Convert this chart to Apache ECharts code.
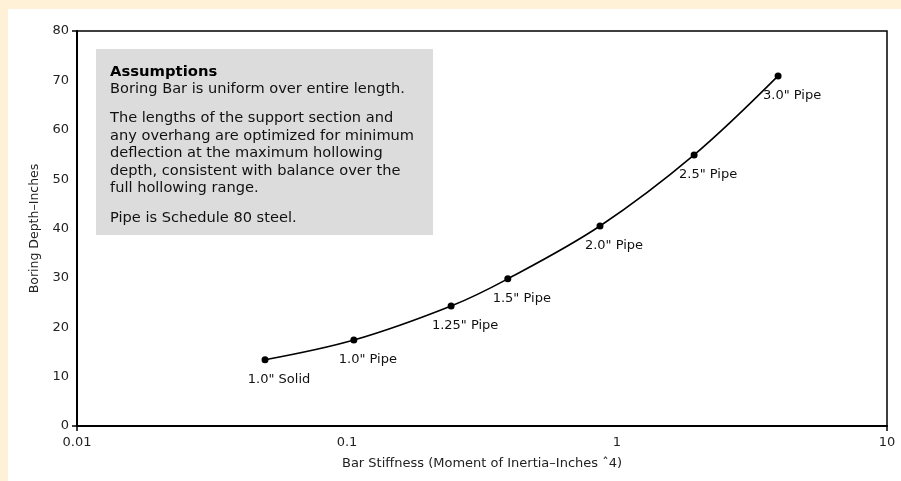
<!DOCTYPE html>
<html>
<head>
<meta charset="utf-8">
<script src="https://cdn.jsdelivr.net/npm/echarts@6/dist/echarts.min.js"></script>
<style>
  html, body { margin: 0; padding: 0; }
  #main { width: 901px; height: 481px; }
</style>
</head>
<body>
<div id="main"></div>
<script>
// bar sizes and their stiffness (moment of inertia, in^4) vs boring depth (in)
var barSizes = ['1.0" Solid', '1.0" Pipe', '1.25" Pipe', '1.5" Pipe', '2.0" Pipe', '2.5" Pipe', '3.0" Pipe'];
var stiffness = [0.0497, 0.106, 0.243, 0.394, 0.865, 1.93, 3.95];
var depth = [13.4, 17.4, 24.3, 29.8, 40.5, 54.9, 70.9];

var noteTitle = 'Assumptions';
var noteLines = [
    'Boring Bar is uniform over entire length.',
    'The lengths of the support section and',
    'any overhang are optimized for minimum',
    'deflection at the maximum hollowing',
    'depth, consistent with balance over the',
    'full hollowing range.',
    'Pipe is Schedule 80 steel.'
];
var noteLineY = [89, 118, 136, 153, 171, 188, 218];

loadChart();

function loadChart() {
    var myChart = echarts.init(document.getElementById('main'));
    var font = '"DejaVu Sans", sans-serif';

    var points = [];
    for (var i = 0; i < stiffness.length; i++) {
        points.push({ value: [stiffness[i], depth[i]], name: barSizes[i] });
    }

    var graphics = [
        { type: 'rect', z: -10, shape: { x: 8, y: 9, width: 893, height: 472 }, style: { fill: '#ffffff' } },
        { type: 'rect', z: 1, shape: { x: 96, y: 49, width: 337, height: 186 }, style: { fill: '#dcdcdd' } },
        {
            type: 'text', z: 2,
            style: { text: noteTitle, x: 110, y: 72, fill: '#000', font: 'bold 14.8px ' + font, textVerticalAlign: 'middle' }
        }
    ];
    noteLines.forEach(function (line, k) {
        graphics.push({
            type: 'text', z: 2,
            style: { text: line, x: 110, y: noteLineY[k], fill: '#111', font: '14.6px ' + font, textVerticalAlign: 'middle' }
        });
    });

    var option = {
        backgroundColor: '#fff0d8',
        animation: false,
        textStyle: { fontFamily: font },
        grid: {
            left: 77, top: 31, right: 14, bottom: 55,
            show: true, borderColor: '#000', borderWidth: 1.5
        },
        graphic: graphics,
        xAxis: [
            {
                type: 'log',
                logBase: 10,
                min: 0.01,
                max: 10,
                name: 'Bar Stiffness (Moment of Inertia–Inches ˆ4)',
                nameLocation: 'middle',
                nameGap: 31,
                nameTextStyle: { color: '#222', fontSize: 13 },
                axisLine: { lineStyle: { color: '#000', width: 2 } },
                axisTick: { show: false },
                minorTick: { show: false },
                splitLine: { show: false },
                axisLabel: { color: '#222', fontSize: 13, margin: 10 }
            },
            {
                // only the end ticks
                type: 'value', min: 0, max: 1, interval: 1, position: 'bottom',
                axisLine: { show: false },
                axisLabel: { show: false },
                splitLine: { show: false },
                axisTick: { show: true, length: 5, lineStyle: { color: '#000', width: 1.5 } }
            }
        ],
        yAxis: [
            {
                type: 'value',
                min: 0,
                max: 80,
                interval: 10,
                name: 'Boring Depth–Inches',
                nameLocation: 'middle',
                nameGap: 34,
                nameTextStyle: { color: '#222', fontSize: 12.5 },
                axisLine: { show: true, lineStyle: { color: '#000', width: 2 } },
                axisTick: { show: false },
                splitLine: { show: false },
                axisLabel: { color: '#222', fontSize: 13, margin: 8 }
            },
            {
                type: 'value', min: 0, max: 80, interval: 80, position: 'left',
                axisLine: { show: false },
                axisLabel: { show: false },
                splitLine: { show: false },
                axisTick: { show: true, length: 5, lineStyle: { color: '#000', width: 1.5 } }
            }
        ],
        series: [
            {
                type: 'line',
                data: points,
                smooth: 0.35,
                symbol: 'circle',
                symbolSize: 7,
                lineStyle: { color: '#000', width: 1.6 },
                itemStyle: { color: '#000' },
                label: {
                    show: true,
                    position: 'bottom',
                    distance: 10,
                    offset: [14, 0],
                    formatter: '{b}',
                    color: '#111',
                    fontSize: 13
                }
            }
        ]
    };

    myChart.setOption(option);
}
</script>
</body>
</html>
